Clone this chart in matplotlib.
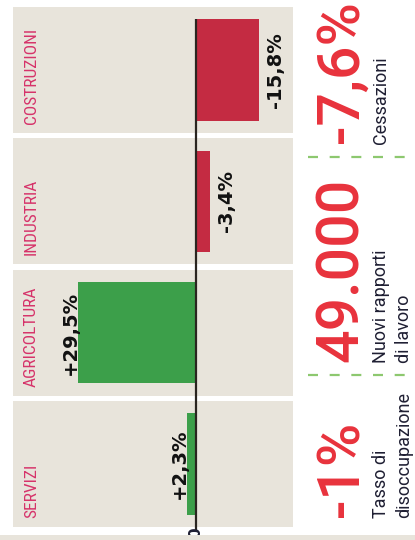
import matplotlib
matplotlib.use("Agg")
import matplotlib.pyplot as plt
from matplotlib import font_manager as fm
from matplotlib.lines import Line2D
from matplotlib.patches import Rectangle
import matplotlib.transforms as mtransforms

# ---------------- data ----------------
categories = ["SERVIZI", "AGRICOLTURA", "INDUSTRIA", "COSTRUZIONI"]
values = [2.3, 29.5, -3.4, -15.8]
value_labels = ["+2,3%", "+29,5%", "-3,4%", "-15,8%"]
zero_label = "0"

kpi_values = ["-1%", "49.000", "-7,6%"]
kpi_captions = [["Tasso di", "disoccupazione"], ["Nuovi rapporti", "di lavoro"], ["Cessazioni"]]

# ---------------- style ----------------
W, H = 415, 540
BG_PANEL = "#E8E4DB"
RED_BAR = "#C42B42"
GREEN_BAR = "#3C9F4A"
CAT_COLOR = "#D6336A"
BIG_RED = "#E8323C"
CAPTION = "#1F1F33"
AXIS = "#2A2520"
DASH_GREEN = "#8DC86F"


def has_font(name):
    try:
        fm.findfont(fm.FontProperties(family=name), fallback_to_default=False)
        return True
    except Exception:
        return False


narrow = next((f for f in ["Liberation Sans Narrow", "Roboto Condensed",
                           "Open Sans Condensed", "DejaVu Sans"] if has_font(f)), "DejaVu Sans")
num_font = "Roboto" if has_font("Roboto") else "DejaVu Sans"

plt.rcParams["lines.scale_dashes"] = False

fig = plt.figure(figsize=(W / 100, H / 100), dpi=100)
fig.patch.set_facecolor("white")


def fx(px):
    return px / W


def fy(py):
    return 1 - py / H


# bottom beige band
fig.patches.append(Rectangle((0, 0), 1, fy(535), transform=fig.transFigure,
                             facecolor=BG_PANEL, edgecolor="none", zorder=0))

# ---------------- bar axes ----------------
ax = fig.add_axes([fx(13), fy(527), fx(293) - fx(13), fy(7) - fy(527)])
ax.set_facecolor("none")
for s in ax.spines.values():
    s.set_visible(False)
ax.set_xticks([])
ax.set_yticks([])

pos = list(range(len(categories)))
half = 0.48
ax.set_ylim(-half, len(categories) - 1 + half)
scale = 4.0  # px per percent
ax.set_xlim(183 / scale, -97 / scale)  # inverted: positive to the left

for p in pos:
    ax.axhspan(p - half, p + half, facecolor=BG_PANEL, edgecolor="none", zorder=0)

colors = [GREEN_BAR if v >= 0 else RED_BAR for v in values]
bar_h = 0.77
ax.barh(pos, values, height=bar_h, color=colors, zorder=2)

# zero axis line
ax.plot([0, 0], [len(categories) - 1 + bar_h / 2, -0.5], color=AXIS, lw=1.6,
        zorder=3, clip_on=False, solid_capstyle="butt")
ax.text(0, -0.525, zero_label, rotation=90, rotation_mode="anchor", ha="center",
        va="center", fontsize=11, fontweight="bold", color=CAPTION, clip_on=False)

# category labels
tr = mtransforms.blended_transform_factory(ax.transAxes, ax.transData)
pitch_px = (527 - 7) / (len(categories) - 1 + 2 * half)
for p, c in zip(pos, categories):
    ax.text((36 - 13) / 280, p - half + 9 / pitch_px, c, transform=tr, rotation=90,
            rotation_mode="anchor", ha="left", va="baseline",
            fontsize=12.5, color=CAT_COLOR, family=[narrow, "DejaVu Sans"])

# value labels
for p, v, lab in zip(pos, values, value_labels):
    off = -2 if v >= 0 else 22
    ax.annotate(lab, (v, p), xytext=(off, 0), textcoords="offset pixels",
                rotation=90, rotation_mode="anchor", ha="center", va="baseline",
                fontsize=14, fontweight="bold", color="#111111",
                family="DejaVu Sans", zorder=4)

# ---------------- right KPI column ----------------
kpi_bottoms = [517, 362, 143]
line_pitch = 23
for val, cap, yb in zip(kpi_values, kpi_captions, kpi_bottoms):
    fig.text(fx(358), fy(yb), val, rotation=90, rotation_mode="anchor",
             ha="left", va="baseline", fontsize=42.5, color=BIG_RED,
             family=num_font, fontweight=500)
    for k, line in enumerate(cap):
        fig.text(fx(386 + k * line_pitch), fy(yb + 1), line, rotation=90,
                 rotation_mode="anchor", ha="left", va="baseline", fontsize=13,
                 color=CAPTION, family=num_font)

for yl in [157, 375]:
    fig.add_artist(Line2D([fx(308), 1.0], [fy(yl), fy(yl)], transform=fig.transFigure,
                          color=DASH_GREEN, lw=1.6, linestyle=(0, (7.2, 8.4))))

fig.savefig("out.png", dpi=100, facecolor="white")
